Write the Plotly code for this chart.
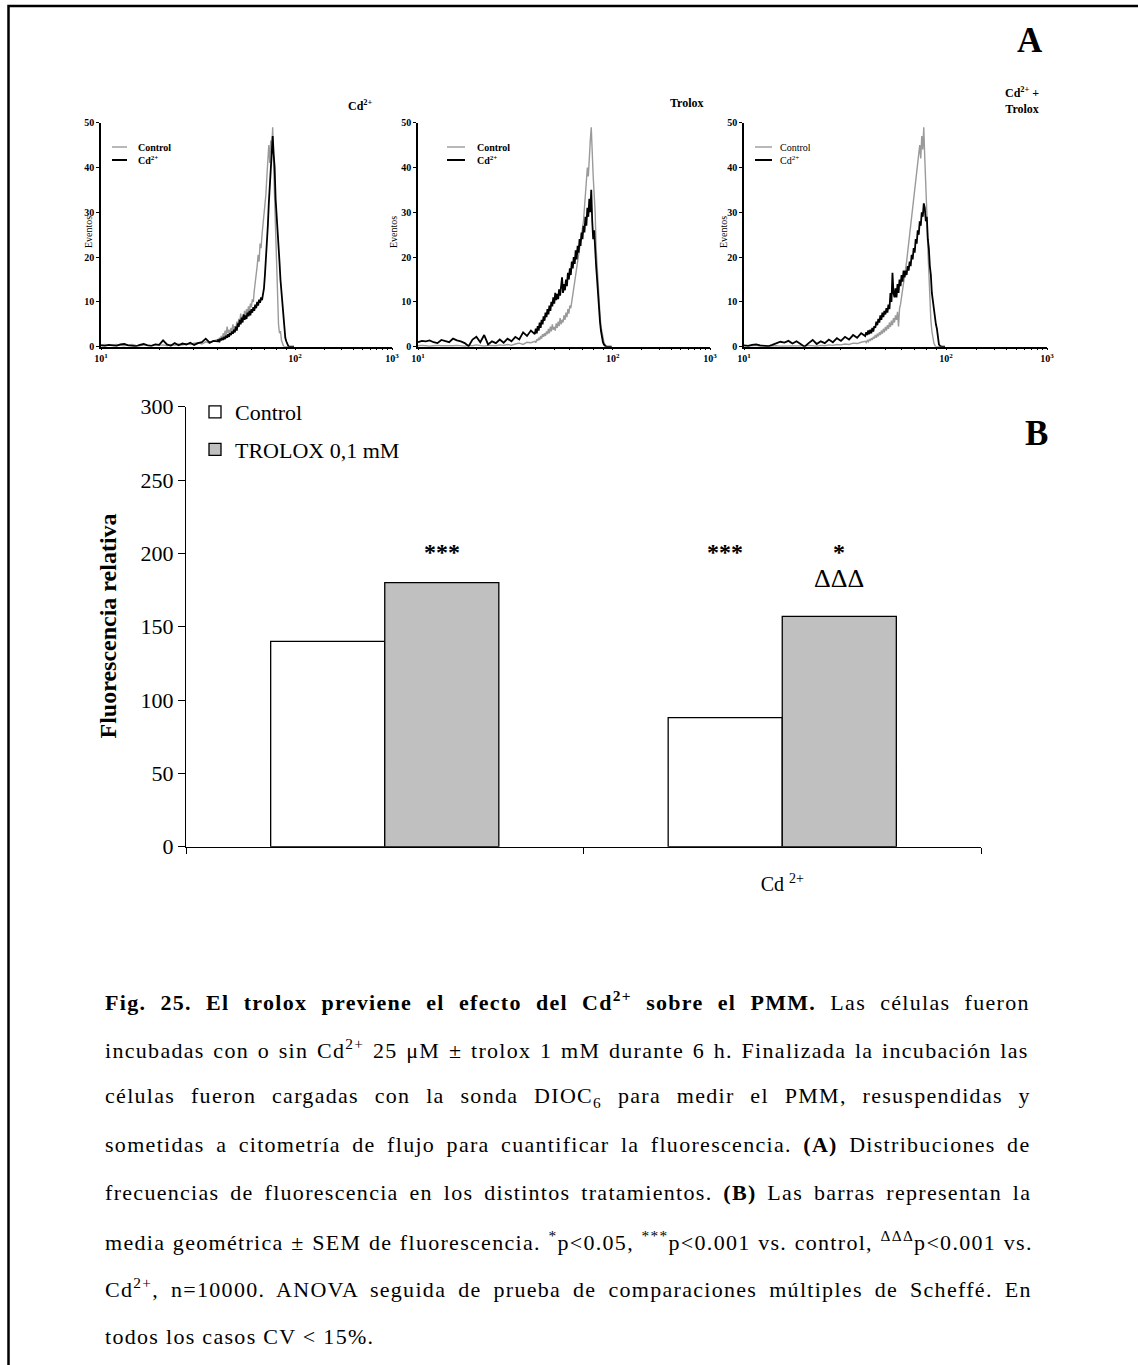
import plotly.graph_objects as go

W, H = 1138, 1365

# ---------------- DATA ----------------
# histogram channels (log10 of fluorescence)
LOG_CHANNEL = [
    1.00, 1.02, 1.04, 1.06, 1.08, 1.10, 1.12, 1.14, 1.16, 1.18,
    1.20, 1.22, 1.24, 1.26, 1.28, 1.30, 1.32, 1.34, 1.36, 1.38,
    1.40, 1.42, 1.44, 1.46, 1.48, 1.50, 1.52, 1.54, 1.56, 1.58,
    1.600, 1.605, 1.610, 1.615, 1.620, 1.625, 1.630, 1.635, 1.640, 1.645,
    1.650, 1.655, 1.660, 1.665, 1.670, 1.675, 1.680, 1.685, 1.690, 1.695,
    1.700, 1.705, 1.710, 1.715, 1.720, 1.725, 1.730, 1.735, 1.740, 1.745,
    1.750, 1.755, 1.760, 1.765, 1.770, 1.775, 1.780, 1.785, 1.790, 1.795,
    1.800, 1.805, 1.810, 1.815, 1.820, 1.825, 1.830, 1.835, 1.840, 1.845,
    1.850, 1.855, 1.860, 1.865, 1.870, 1.875, 1.880, 1.885, 1.890, 1.895,
    1.900, 1.905, 1.910, 1.915, 1.920, 1.925, 1.930, 1.935, 1.940, 1.945,
    1.950, 1.955, 1.960, 1.965, 1.970, 1.975, 1.980, 1.985, 1.990, 1.995,
]
# Panel 1 (Cd2+)
P1_CONTROL = [
    0.4, 0.5, 0.3, 0.4, 0.5, 0.3, 0.2, 0.4, 0.5, 0.3,
    0.2, 0.4, 0.3, 0.2, 0.5, 0.3, 0.4, 0.2, 0.5, 0.3,
    0.6, 0.4, 0.7, 0.5, 0.8, 0.9, 0.6, 1.1, 0.8, 1.3,
    1.6, 1.2, 2.0, 1.5, 2.4, 1.8, 3.0, 2.2, 3.6, 2.6,
    4.5, 3.0, 3.8, 2.8, 4.2, 3.4, 5.0, 3.6, 4.6, 3.8,
    5.6, 4.4, 6.2, 5.0, 7.4, 5.4, 6.8, 6.0, 8.0, 6.6,
    8.4, 7.2, 9.0, 8.0, 9.6, 8.8, 10.6, 10.0, 12.5, 14.0,
    16.5, 18.0, 20.5, 19.0, 23.0, 22.0, 25.0, 27.0, 29.5, 31.0,
    34.0, 38.0, 43.0, 45.0, 41.0, 46.0, 44.0, 49.0, 40.0, 33.0,
    26.0, 17.0, 10.0, 5.0, 3.0, 3.5, 1.5, 0.6, 0.2, 0,
    0, 0, 0, 0, 0, 0, 0, 0, 0, 0,
]
P1_CD = [
    0.3, 0.2, 0.4, 0.3, 0.2, 0.5, 0.6, 0.3, 0.2, 0.1,
    0.4, 0.6, 0.3, 0.2, 0.5, 0.4, 1.4, 0.5, 0.2, 0.8,
    0.3, 0.7, 0.5, 0.9, 0.4, 0.8, 1.0, 1.8, 0.9, 1.3,
    1.2, 1.6, 1.0, 1.8, 1.4, 2.0, 1.5, 2.2, 1.7, 2.5,
    2.0, 2.8, 2.2, 3.0, 2.6, 3.4, 2.9, 3.8, 3.2, 4.5,
    3.6, 5.2, 4.4, 6.0, 5.0, 6.5, 5.4, 7.2, 6.0, 7.0,
    6.2, 7.6, 6.8, 8.0, 7.0, 8.4, 7.6, 8.8, 8.0, 9.4,
    8.6, 10.0, 9.2, 10.5, 9.8, 11.0, 10.4, 11.8, 13.0, 16.0,
    19.0, 22.0, 27.0, 32.0, 36.0, 41.0, 44.0, 47.0, 43.0, 40.0,
    33.0, 30.0, 27.0, 24.0, 19.0, 15.0, 12.0, 9.0, 6.0, 4.0,
    2.0, 1.2, 0.5, 0.2, 0, 0, 0, 0, 0, 0,
]
# Panel 2 (Trolox)
P2_CONTROL = [
    0.2, 0.3, 0.2, 0.1, 0.2, 0.3, 0.2, 0.2, 0.1, 0.2,
    0.3, 0.2, 0.1, 0.3, 0.2, 0.4, 0.2, 0.1, 0.3, 0.2,
    0.2, 0.4, 0.3, 0.5, 0.3, 0.6, 0.8, 0.5, 1.0, 0.9,
    1.2, 0.9, 1.6, 1.3, 2.0, 1.5, 2.4, 1.8, 2.8, 2.2,
    3.0, 2.4, 3.4, 2.8, 4.0, 3.0, 4.5, 3.4, 5.0, 3.8,
    4.4, 3.6, 5.2, 4.2, 5.6, 4.6, 6.4, 5.0, 6.0, 5.4,
    7.0, 6.0, 7.6, 6.6, 8.4, 7.4, 9.2, 8.6, 10.5, 11.5,
    13.0, 14.5, 16.0, 17.5, 18.5, 20.0, 21.5, 23.0, 24.5, 26.0,
    28.0, 31.0, 34.0, 37.0, 40.0, 38.0, 44.0, 46.0, 49.0, 42.0,
    38.0, 34.0, 30.0, 22.0, 18.0, 13.0, 10.0, 7.0, 4.5, 3.0,
    2.0, 1.0, 0.5, 0.2, 0, 0, 0, 0, 0, 0,
]
P2_CD = [
    1.0, 1.3, 1.2, 1.4, 1.0, 0.8, 1.5, 1.2, 1.0, 1.8,
    1.4, 1.2, 0.8, 0.1, 1.6, 2.2, 1.0, 2.6, 0.5, 1.2,
    0.8, 1.6, 0.9, 1.8, 1.2, 2.2, 1.6, 3.2, 2.4, 3.6,
    2.8, 4.0, 3.0, 4.6, 3.6, 5.4, 4.2, 6.0, 5.0, 6.8,
    5.8, 7.6, 6.6, 8.4, 7.2, 9.2, 8.0, 10.0, 9.0, 11.0,
    9.6, 12.0, 10.4, 11.8, 10.6, 12.8, 11.4, 13.5, 15.5, 12.0,
    14.0, 12.6, 15.0, 13.5, 16.5, 15.0, 17.5, 16.0, 19.0, 17.5,
    20.0, 18.5, 21.5, 19.5, 22.5, 21.0, 24.0, 22.5, 25.5, 24.0,
    27.0, 25.5, 29.0, 27.0, 31.0, 29.0, 33.0, 30.0, 35.0, 28.0,
    24.0, 26.0, 21.0, 18.0, 15.0, 11.0, 8.0, 5.5, 3.5, 2.0,
    1.0, 0.5, 0.2, 0, 0, 0, 0, 0, 0, 0,
]
# Panel 3 (Cd2+ + Trolox)
P3_CONTROL = [
    0.2, 0.1, 0.2, 0.3, 0.1, 0.2, 0.1, 0.2, 0.2, 0.1,
    0.1, 0.2, 0.1, 0.2, 0.1, 0.2, 0.3, 0.2, 0.1, 0.3,
    0.2, 0.4, 0.3, 0.5, 0.4, 0.6, 0.5, 0.8, 0.7, 1.0,
    1.2, 0.9, 1.4, 1.1, 1.6, 1.3, 1.9, 1.5, 2.2, 1.8,
    2.6, 2.0, 2.9, 2.3, 3.2, 2.6, 3.6, 2.9, 4.0, 3.2,
    4.4, 3.6, 4.8, 4.0, 5.4, 4.4, 5.8, 4.8, 6.4, 5.4,
    7.0, 6.0, 7.8, 4.5, 8.5, 9.5, 11.0, 12.0, 14.0, 15.5,
    17.5, 19.0, 21.0, 23.0, 25.0, 27.5, 29.5, 31.0, 33.5, 35.5,
    37.5, 39.0, 41.5, 43.5, 45.0, 42.0, 47.0, 44.0, 49.0, 42.0,
    37.0, 30.0, 22.0, 15.0, 10.0, 6.0, 3.5, 2.0, 0.8, 0.3,
    0, 0, 0, 0, 0, 0, 0, 0, 0, 0,
]
P3_CD = [
    0.3, 0.2, 0.4, 0.5, 0.3, 0.2, 0.1, 0.4, 0.8, 1.1,
    0.9, 1.3, 0.7, 1.2, 0.6, 0.0, 0.8, 1.5, 0.6, 1.2,
    0.8, 1.6, 1.0, 1.9, 1.3, 2.2, 1.6, 2.6, 2.0, 3.0,
    2.4, 3.2, 2.6, 3.6, 2.8, 3.8, 3.0, 4.2, 3.4, 4.6,
    4.2, 5.6, 4.8, 6.2, 5.4, 7.0, 6.0, 7.6, 6.6, 8.0,
    7.2, 8.6, 7.6, 9.4, 8.4, 12.0, 10.0, 16.5, 12.0, 11.0,
    13.0, 11.0, 14.0, 12.0, 15.0, 13.5, 16.0, 14.5, 17.0, 15.5,
    17.0, 16.0, 18.0, 17.0, 19.0, 18.0, 20.5, 19.5, 22.0, 21.0,
    24.0, 23.0, 26.0, 25.0, 28.0, 27.0, 30.0, 29.0, 32.0, 31.0,
    28.0, 29.0, 24.0, 22.0, 18.0, 16.0, 12.0, 10.0, 8.0, 6.0,
    5.0, 4.0, 1.5, 0.5, 0.2, 0, 0, 0, 0, 0,
]

HIST_TITLES = ["Cd<sup>2+</sup>", "Trolox", "Cd<sup>2+</sup> +<br>Trolox"]
HIST_SERIES = ["Control", "Cd<sup>2+</sup>"]
HIST_YTICKS = [0, 10, 20, 30, 40, 50]
HIST_XTICKS = [1, 2, 2.5]
HIST_XTICKTEXT = ["10<sup>1</sup>", "10<sup>2</sup>", "10<sup>3</sup>"]

# Panel B (bars)
BAR_GROUPS = ["sin Cd", "Cd"]
BAR_GROUP_LABELS = ["", "Cd <sup>2+</sup>"]
BAR_CONTROL = [140, 88]
BAR_TROLOX = [180, 157]
BAR_SERIES = ["Control", "TROLOX 0,1 mM"]
BAR_YTICKS = [0, 50, 100, 150, 200, 250, 300]
SIG_CONTROL = ["", "***"]
SIG_TROLOX = ["***", "*"]
SIG_TROLOX_VS_CD = ["", "ΔΔΔ"]

CAPTION_LINES = [
    "<b>Fig. 25. El trolox previene el efecto del Cd<sup>2+</sup> sobre el PMM.</b> Las células fueron",
    "incubadas con o sin Cd<sup>2+</sup> 25 μM ± trolox 1 mM durante 6 h. Finalizada la incubación las",
    "células fueron cargadas con la sonda DIOC<sub>6</sub> para medir el PMM, resuspendidas y",
    "sometidas a citometría de flujo para cuantificar la fluorescencia. <b>(A)</b> Distribuciones de",
    "frecuencias de fluorescencia en los distintos tratamientos. <b>(B)</b> Las barras representan la",
    "media geométrica ± SEM de fluorescencia. <sup>*</sup>p<0.05, <sup>***</sup>p<0.001 vs. control, <sup>ΔΔΔ</sup>p<0.001 vs.",
    "Cd<sup>2+</sup>, n=10000. ANOVA seguida de prueba de comparaciones múltiples de Scheffé. En",
    "todos los casos CV < 15%.",
]
# word spacing (px) used to justify each caption line
CAPTION_WORD_SPACING = [7.4, 1.9, 9.0, 4.65, 4.05, 0.8, 5.15, 0.0]

# ---------------- FIGURE ----------------
SERIF = "Liberation Serif"
GRAY_LINE = "#9a9a9a"


def px(xp):
    return xp / W


def py(yp):
    return 1 - yp / H


fig = go.Figure()

hist_data = [(P1_CONTROL, P1_CD), (P2_CONTROL, P2_CD), (P3_CONTROL, P3_CD)]
hist_xdom = [(101, 392), (418, 710), (744, 1047)]
hist_ytop, hist_ybot = 122.7, 346.7
minor_ticks = [1.30103, 1.47712, 1.60206, 1.69897, 1.77815, 1.84510, 1.90309, 1.95424,
               2.150515, 2.23856, 2.30103, 2.349485, 2.389075, 2.42255, 2.451545, 2.47712]

for i, (ctrl, cd) in enumerate(hist_data):
    k = i + 2
    fig.add_trace(go.Scatter(x=LOG_CHANNEL, y=ctrl, mode="lines", name=HIST_SERIES[0],
                             line=dict(color=GRAY_LINE, width=1.4), showlegend=False,
                             xaxis=f"x{k}", yaxis=f"y{k}"))
    fig.add_trace(go.Scatter(x=LOG_CHANNEL, y=cd, mode="lines", name=HIST_SERIES[1],
                             line=dict(color="black", width=1.8), showlegend=False,
                             xaxis=f"x{k}", yaxis=f"y{k}"))
    x0, x1 = hist_xdom[i]
    fig.layout[f"xaxis{k}"] = dict(
        domain=[px(x0), px(x1)], range=[1, 2.5], anchor=f"y{k}", automargin=False,
        showline=True, linecolor="black", linewidth=1.5, showgrid=False, zeroline=False,
        tickmode="array", tickvals=HIST_XTICKS, ticktext=HIST_XTICKTEXT,
        ticks="outside", ticklen=2, tickcolor="black",
        minor=dict(tickmode="array", tickvals=minor_ticks, ticks="outside", ticklen=2,
                   tickcolor="black"),
        tickfont=dict(family=SERIF, size=10, color="black", weight="bold"),
    )
    fig.layout[f"yaxis{k}"] = dict(
        domain=[py(hist_ybot), py(hist_ytop)], range=[0, 50], anchor=f"x{k}",
        automargin=False,
        showline=True, linecolor="black", linewidth=1.5, showgrid=False, zeroline=False,
        tickmode="array", tickvals=HIST_YTICKS, ticks="outside", ticklen=3,
        tickcolor="black",
        tickfont=dict(family=SERIF, size=10, color="black", weight="bold"),
    )

# Bar chart
fig.add_trace(go.Bar(x=BAR_GROUPS, y=BAR_CONTROL, name=BAR_SERIES[0], legendgroup="a",
                     marker=dict(color="white", line=dict(color="black", width=1.3)),
                     xaxis="x", yaxis="y"))
fig.add_trace(go.Bar(x=BAR_GROUPS, y=BAR_TROLOX, name=BAR_SERIES[1], legendgroup="b",
                     marker=dict(color="#c0c0c0", line=dict(color="black", width=1.3)),
                     xaxis="x", yaxis="y"))

fig.update_layout(
    width=W, height=H,
    margin=dict(l=0, r=0, t=0, b=0, pad=0, autoexpand=False),
    paper_bgcolor="white", plot_bgcolor="rgba(0,0,0,0)",
    barmode="group", bargap=0.426, bargroupgap=0,
    font=dict(family=SERIF, color="black"),
    xaxis=dict(domain=[px(186), px(981)], range=[-0.5, 1.5], anchor="y", automargin=False,
               type="category", tickmode="array", tickvals=BAR_GROUPS,
               ticktext=BAR_GROUP_LABELS, tickson="boundaries",
               showline=True, linecolor="black", linewidth=1.4, showgrid=False,
               ticks="outside", ticklen=6, tickcolor="black", tickwidth=1.4,
               ticklabelstandoff=19,
               tickfont=dict(family=SERIF, size=20, color="black")),
    yaxis=dict(domain=[py(846.7), py(406.7)], range=[0, 300], anchor="x", automargin=False,
               showline=True, linecolor="black", linewidth=1.4, showgrid=False,
               zeroline=False, tickmode="array", tickvals=BAR_YTICKS,
               ticks="outside", ticklen=7, tickcolor="black", tickwidth=1.4,
               tickfont=dict(family=SERIF, size=22, color="black")),
    showlegend=True,
    legend=dict(x=px(195), y=py(391), xanchor="left", yanchor="top",
                bgcolor="rgba(0,0,0,0)", borderwidth=0, tracegroupgap=6,
                itemwidth=30, font=dict(family=SERIF, size=22, color="black")),
)

ann = []


def label(x, y, text, size, angle=0, xanchor="center", yanchor="middle"):
    ann.append(dict(x=px(x), y=py(y), xref="paper", yref="paper", text=text,
                    textangle=angle, showarrow=False, xanchor=xanchor, yanchor=yanchor,
                    font=dict(family=SERIF, size=size, color="black")))


# Panel titles
label(360, 106, "<b>" + HIST_TITLES[0] + "</b>", 12)
label(687, 103, "<b>" + HIST_TITLES[1] + "</b>", 12)
label(1022, 101, "<b>" + HIST_TITLES[2] + "</b>", 12)

# Eventos labels
for xe in (88, 393, 723):
    label(xe, 232, "Eventos", 10, angle=-90)

# Histogram legends (line samples + text)
shapes = []
legend_x = [(112, 127, 136, True), (447, 465, 475, True), (755, 772, 778, False)]
for (l0, l1, tx, bold) in legend_x:
    for j, (yy, col, wd) in enumerate(((147, GRAY_LINE, 1.4), (160, "black", 2.0))):
        shapes.append(dict(type="line", xref="paper", yref="paper",
                           x0=px(l0), x1=px(l1), y0=py(yy), y1=py(yy),
                           line=dict(color=col, width=wd)))
        txt = HIST_SERIES[j]
        label(tx, yy, ("<b>" + txt + "</b>") if bold else txt, 10, xanchor="left")

# Panel letters
label(1030, 40, "<b>A</b>", 35)
label(1036, 433, "<b>B</b>", 35)

# Y title of bar chart (centred on the value axis)
label(107.5, 626, "<b>Fluorescencia relativa</b>", 24, angle=-90)

# Significance marks
for gi, g in enumerate(BAR_GROUPS):
    if SIG_CONTROL[gi]:
        ann.append(dict(x=g, y=201, xref="x", yref="y", xshift=-57, xanchor="center",
                        text="<b>" + SIG_CONTROL[gi] + "</b>", showarrow=False,
                        yanchor="middle", font=dict(family=SERIF, size=24, color="black")))
    if SIG_TROLOX[gi]:
        ann.append(dict(x=g, y=201, xref="x", yref="y", xshift=57, xanchor="center",
                        text="<b>" + SIG_TROLOX[gi] + "</b>", showarrow=False,
                        yanchor="middle", font=dict(family=SERIF, size=24, color="black")))
    if SIG_TROLOX_VS_CD[gi]:
        ann.append(dict(x=g, y=BAR_TROLOX[gi], xref="x", yref="y", xshift=57, yshift=38,
                        xanchor="center", text=SIG_TROLOX_VS_CD[gi], showarrow=False,
                        yanchor="middle", font=dict(family=SERIF, size=26, color="black")))

# Caption (justified with word spacing)
line_y0, line_dy = 1001, 47.9
for li, txt in enumerate(CAPTION_LINES):
    styled = ('<span style="letter-spacing:1.3px;word-spacing:%.2fpx">%s</span>'
              % (CAPTION_WORD_SPACING[li], txt))
    label(103, line_y0 + li * line_dy, styled, 22, xanchor="left")

# Frame (left and top edges visible, cut at right/bottom)
shapes.append(dict(type="rect", xref="paper", yref="paper", x0=px(8.5), x1=1.02,
                   y0=-0.02, y1=py(6), line=dict(color="black", width=2.5)))

fig.update_layout(annotations=ann, shapes=shapes)

fig.write_html("out.html")
